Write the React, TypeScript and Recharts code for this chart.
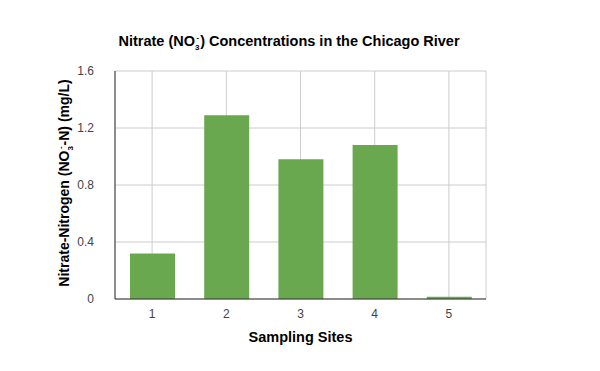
import React from 'react'
import { BarChart, Bar, XAxis, YAxis, CartesianGrid, Label } from 'recharts'

// sampling sites along the river and the nitrate readings (mg/L)
const sites = ['1', '2', '3', '4', '5']
const nitrate = [0.32, 1.29, 0.98, 1.08, 0.015]
const yTicks = [0, 0.4, 0.8, 1.2, 1.6]

const data = sites.map((site, i) => ({ site, value: nitrate[i] }))

const FONT = "Arial, 'Liberation Sans', sans-serif"

function YTitle(props: any) {
  const vb = props.viewBox
  const x = vb.x + 69
  const y = vb.y + vb.height / 2 - 2
  return (
    <text
      x={x}
      y={y}
      transform={`rotate(-90, ${x}, ${y})`}
      textAnchor="middle"
      fontFamily={FONT}
      fontSize={14}
      fontWeight="bold"
      fill="#000"
    >
      Nitrate-Nitrogen (NO
      <tspan fontSize={8} dy={4}>3</tspan>
      <tspan fontSize={8} dx={-3} dy={-10}>-</tspan>
      <tspan dx={1} dy={6}>-N) (mg/L)</tspan>
    </text>
  )
}

function XTitle(props: any) {
  const vb = props.viewBox
  return (
    <text
      x={vb.x + vb.width / 2}
      y={vb.y + 43}
      textAnchor="middle"
      fontFamily={FONT}
      fontSize={14.5}
      fontWeight="bold"
      fill="#000"
    >
      Sampling Sites
    </text>
  )
}

export default function App() {
  return (
    <div style={{ position: 'absolute', left: 0, top: 0, width: 600, height: 371, background: '#fff' }}>
      <BarChart
        width={600}
        height={371}
        data={data}
        margin={{ top: 71, right: 114, left: 0, bottom: 0 }}
      >
        <CartesianGrid stroke="#cccccc" />
        <XAxis
          dataKey="site"
          height={72}
          tickLine={false}
          axisLine={{ stroke: '#333' }}
          tick={{ fill: '#444', fontSize: 12, fontFamily: FONT }}
          tickMargin={4}
        >
          <Label content={<XTitle />} />
        </XAxis>
        <YAxis
          width={115}
          domain={[0, 1.6]}
          ticks={yTicks}
          tickLine={false}
          axisLine={{ stroke: '#333' }}
          tick={{ fill: '#444', fontSize: 12, fontFamily: FONT }}
          tickMargin={15}
        >
          <Label content={<YTitle />} />
        </YAxis>
        <Bar dataKey="value" fill="#6aa84f" barSize={45} isAnimationActive={false} />
      </BarChart>
      <svg
        width={600}
        height={371}
        style={{ position: 'absolute', left: 0, top: 0, pointerEvents: 'none' }}
      >
        <text x={289} y={46} textAnchor="middle" fontFamily={FONT} fontSize={14.5} fontWeight="bold" fill="#000">
          Nitrate (NO
          <tspan fontSize={8} dy={4}>3</tspan>
          <tspan fontSize={8} dx={-3} dy={-10}>-</tspan>
          <tspan dx={1} dy={6}>) Concentrations in the Chicago River</tspan>
        </text>
      </svg>
    </div>
  )
}
